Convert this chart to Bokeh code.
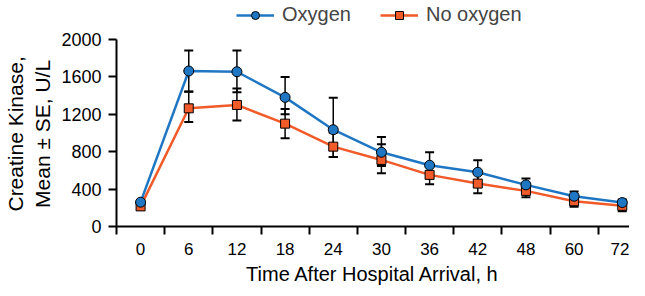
from bokeh.plotting import figure
from bokeh.models import Range1d, FixedTicker, Legend, LegendItem
from bokeh.embed import file_html
from bokeh.resources import INLINE

hours = ["0", "6", "12", "18", "24", "30", "36", "42", "48", "60", "72"]
y_ticks = [0, 400, 800, 1200, 1600, 2000]

oxygen_mean = [260, 1663, 1655, 1381, 1035, 794, 655, 580, 445, 324, 256]
oxygen_high = [280, 1883, 1883, 1598, 1378, 958, 794, 708, 513, 374, 288]
oxygen_low = [240, 1443, 1437, 1200, 744, 648, 516, 452, 377, 274, 224]

no_oxygen_mean = [215, 1264, 1300, 1100, 854, 712, 552, 459, 381, 270, 221]
no_oxygen_high = [235, 1440, 1477, 1257, 1004, 879, 652, 562, 449, 330, 279]
no_oxygen_low = [195, 1118, 1135, 943, 744, 569, 452, 356, 313, 210, 163]

BLUE = "#1f77c4"
ORANGE = "#f15a29"
FONT = "Liberation Sans"

x = list(range(len(hours)))

# frame spans the whole canvas height above the x axis; 2000 sits 39px below its top
p = figure(width=629, height=288, output_backend="svg", toolbar_location=None,
           x_range=Range1d(-0.5, 10.15), y_range=Range1d(0, 2000 * 226 / 187),
           min_border_left=110, min_border_right=0, min_border_top=0,
           min_border_bottom=62)
p.outline_line_color = None
p.xgrid.visible = False
p.ygrid.visible = False

# lines
l_o = p.line(x, oxygen_mean, line_color=BLUE, line_width=2.5)
l_n = p.line(x, no_oxygen_mean, line_color=ORANGE, line_width=2.5)

# error bars
for hi, lo in ((oxygen_high, oxygen_low), (no_oxygen_high, no_oxygen_low)):
    p.segment(x0=x, y0=lo, x1=x, y1=hi, line_color="black", line_width=1.5)
    p.scatter(x, hi, marker="dash", size=9, line_color="black", line_width=2)
    p.scatter(x, lo, marker="dash", size=9, line_color="black", line_width=2)

# markers
m_n = p.scatter(x, no_oxygen_mean, marker="square", size=9, fill_color=ORANGE,
                line_color="black", line_width=1)
m_o = p.scatter(x, oxygen_mean, marker="circle", size=10, fill_color=BLUE,
                line_color="black", line_width=1)

# axes
for ax in (p.xaxis[0], p.yaxis[0]):
    ax.axis_line_color = "black"
    ax.axis_line_width = 2
    ax.major_tick_line_color = "black"
    ax.major_tick_line_width = 2
    ax.minor_tick_line_color = "black"
    ax.minor_tick_line_width = 2
    ax.major_label_text_font = FONT
    ax.major_label_text_color = "black"
    ax.axis_label_text_font = FONT
    ax.axis_label_text_font_style = "normal"
    ax.axis_label_text_color = "black"

p.xaxis.ticker = FixedTicker(ticks=x, minor_ticks=[i - 0.5 for i in x])
p.xaxis.major_label_overrides = {i: h for i, h in zip(x, hours)}
p.xaxis.major_tick_out = 0
p.xaxis.major_tick_in = 0
p.xaxis.minor_tick_out = 8
p.xaxis.minor_tick_in = 0
p.xaxis.major_label_standoff = 8
p.xaxis.major_label_text_font_size = "17px"
p.xaxis.axis_label = "Time After Hospital Arrival, h"
p.xaxis.axis_label_text_font_size = "20px"
p.xaxis.axis_label_standoff = 5

NB = "\u00a0" * 7
p.yaxis.ticker = FixedTicker(ticks=y_ticks)
p.yaxis.bounds = (0, 2000)
p.yaxis.major_tick_out = 8
p.yaxis.major_tick_in = 0
p.yaxis.minor_tick_out = 0
p.yaxis.minor_tick_in = 0
p.yaxis.major_label_standoff = 7
p.yaxis.major_label_text_font_size = "18px"
p.yaxis.axis_label = "Creatine Kinase," + NB + "\nMean \u00b1 SE, U/L" + NB
p.yaxis.axis_label_text_font_size = "21px"
p.yaxis.axis_label_standoff = 4

legend = Legend(items=[LegendItem(label="Oxygen", renderers=[l_o, m_o]),
                       LegendItem(label="No oxygen", renderers=[l_n, m_n])],
                location=(120, 200), orientation="horizontal",
                glyph_width=38, glyph_height=20, label_height=20,
                label_standoff=8, spacing=29, padding=0, margin=0,
                border_line_color=None, background_fill_alpha=0,
                label_text_font=FONT, label_text_font_size="20px")
p.add_layout(legend, "center")

open("out.html", "w").write(file_html(p, INLINE))
